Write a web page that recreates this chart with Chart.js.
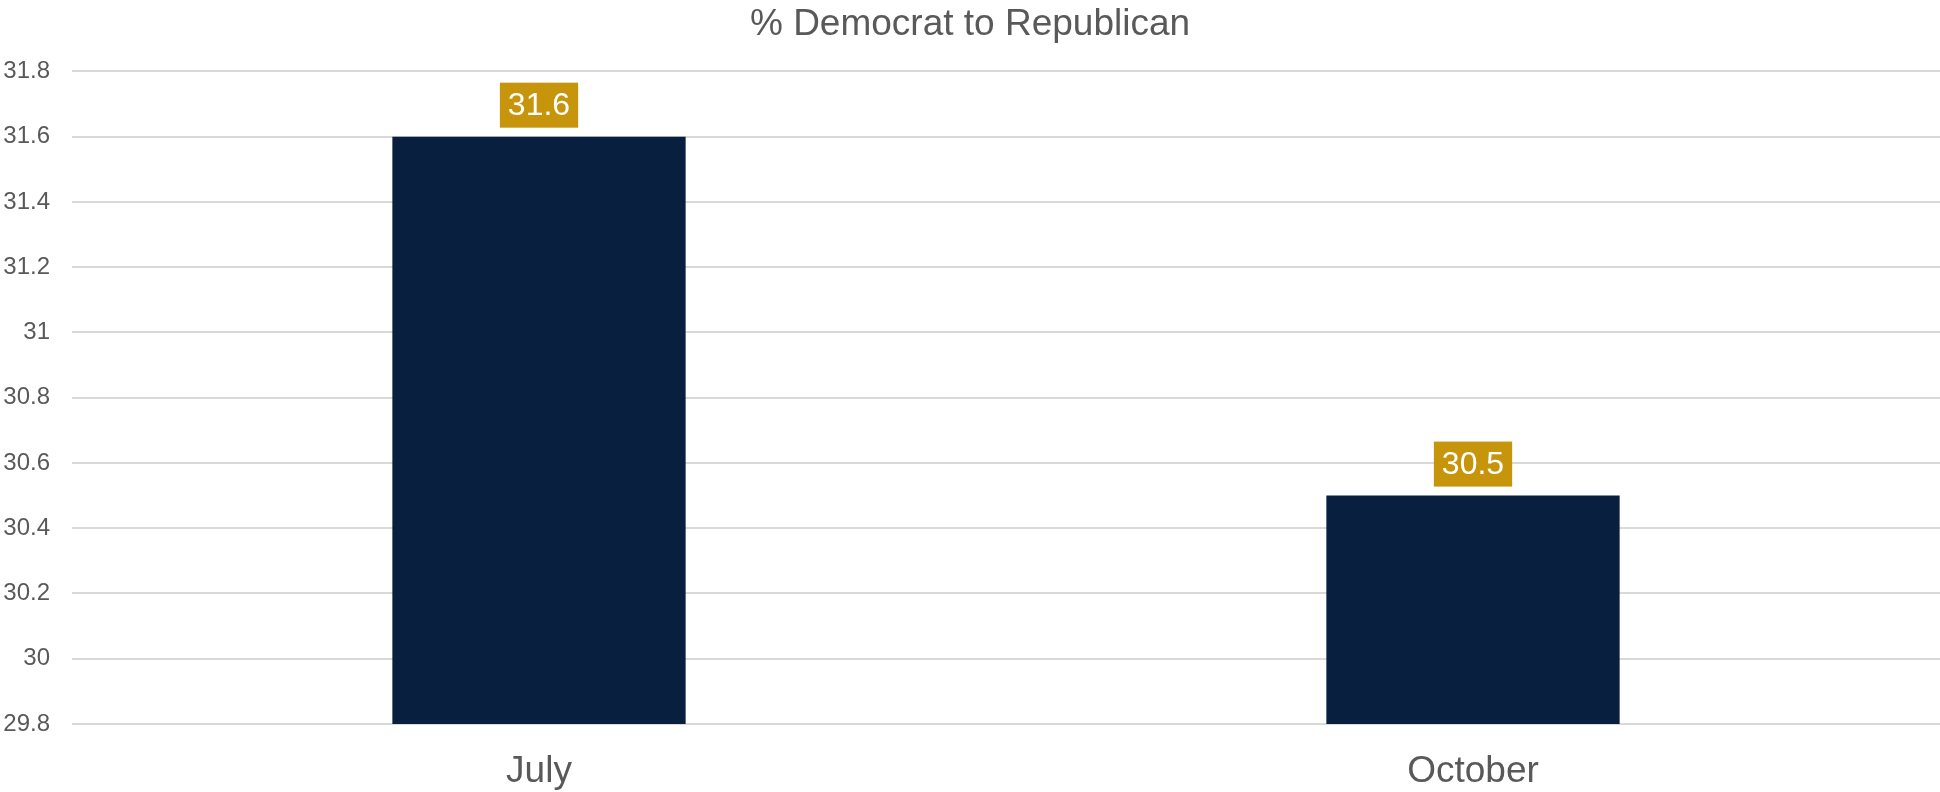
<!DOCTYPE html>
<html>
<head>
  <meta charset="utf-8">
  <title>% Democrat to Republican</title>
  <script src="https://cdn.jsdelivr.net/npm/chart.js"></script>
  <style>
    body { margin: 0; background: #fff; }
    #wrap { width: 1940px; height: 792px; }
  </style>
</head>
<body>
<div id="wrap"><canvas id="chart"></canvas></div>

<script>
const months = ["July", "October"];
const pctDemToRep = [31.6, 30.5];
const yMin = 29.8;
const yMax = 31.8;
const yStep = 0.2;

const FONT = "'Liberation Sans', Arial, sans-serif";

// boxed value labels above each bar
const valueBoxes = {
  id: "valueBoxes",
  afterDatasetsDraw(chart) {
    const ctx = chart.ctx;
    const meta = chart.getDatasetMeta(0);
    ctx.save();
    ctx.font = "32px " + FONT;
    ctx.textAlign = "center";
    ctx.textBaseline = "middle";
    meta.data.forEach((bar, i) => {
      const txt = String(pctDemToRep[i]);
      const w = ctx.measureText(txt).width + 16;
      const h = 45;
      const bottom = bar.y - 9;
      ctx.fillStyle = "#C6950C";
      ctx.fillRect(bar.x - w / 2, bottom - h, w, h);
      ctx.fillStyle = "#ffffff";
      ctx.fillText(txt, bar.x, bottom - h / 2 + 1);
    });
    ctx.restore();
  }
};

new Chart(document.getElementById("chart"), {
  type: "bar",
  data: {
    labels: months,
    datasets: [{
      label: "% Democrat to Republican",
      data: pctDemToRep,
      backgroundColor: "#081F3F",
      categoryPercentage: 1,
      barPercentage: 0.314
    }]
  },
  plugins: [valueBoxes],
  options: {
    responsive: true,
    maintainAspectRatio: false,
    animation: false,
    layout: { padding: 0 },
    plugins: {
      legend: { display: false },
      tooltip: { enabled: false },
      title: {
        display: true,
        text: "% Democrat to Republican",
        color: "#595959",
        font: { family: FONT, size: 37, weight: "normal" },
        padding: { top: 3, bottom: 24 }
      }
    },
    scales: {
      x: {
        grid: { display: false, drawTicks: false },
        border: { display: false },
        afterFit(scale) { scale.height = 68; },
        ticks: {
          color: "#595959",
          font: { family: FONT, size: 37 },
          padding: 26
        }
      },
      y: {
        min: yMin,
        max: yMax,
        grid: { color: "#d9d9d9", lineWidth: 2, drawTicks: false },
        border: { display: false },
        afterFit(scale) { scale.width = 72; },
        ticks: {
          stepSize: yStep,
          color: "#595959",
          font: { family: FONT, size: 24 },
          padding: 22,
          callback: v => String(Math.round(v * 10) / 10)
        }
      }
    }
  }
});
</script>
</body>
</html>
